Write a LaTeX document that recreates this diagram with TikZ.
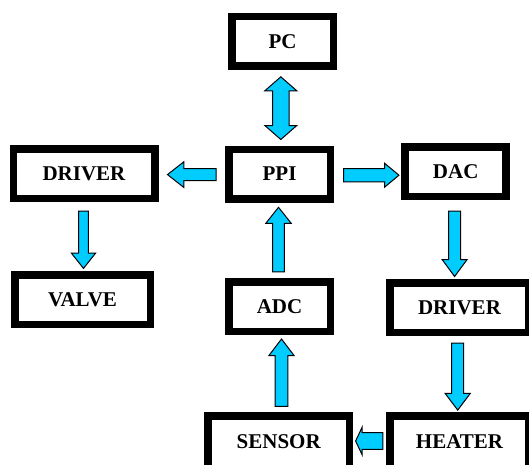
\documentclass[tikz,border=0pt]{standalone}
\usepackage{fontspec}
\setmainfont{Liberation Serif}
\usetikzlibrary{calc}

\definecolor{flowcyan}{RGB}{0,204,255}

\tikzset{
  block/.style={draw=black, line width=7.5pt, fill=white, inner sep=0pt,
    minimum width=#1, minimum height=49.5pt,
    font=\fontsize{21}{24}\selectfont\bfseries},
  % blocks running past the lower edge of the page
  lowblock/.style={block=#1, minimum height=0pt, text height=32pt, text depth=40pt, anchor=base},
  blockarrowstyle/.style={fill=flowcyan, draw=black, line width=1pt, line join=miter},
}

% single block arrow: from, to, shaft half width, head half width, head length
\newcommand\blockarrow[5]{%
  \path (#1) coordinate (ba-s) (#2) coordinate (ba-e);
  \coordinate (ba-h) at ($(ba-e)!#5pt!(ba-s)$);
  \filldraw[blockarrowstyle]
    ($(ba-s)!#3pt!90:(ba-e)$) -- ($(ba-h)!#3pt!-90:(ba-s)$) --
    ($(ba-h)!#4pt!-90:(ba-s)$) -- (ba-e) -- ($(ba-h)!#4pt!90:(ba-s)$) --
    ($(ba-h)!#3pt!90:(ba-s)$) -- ($(ba-s)!#3pt!-90:(ba-e)$) -- cycle;
}

% double-headed block arrow: end a, end b, shaft half width, head half width, head length
\newcommand\dblockarrow[5]{%
  \path (#1) coordinate (da-a) (#2) coordinate (da-b);
  \coordinate (da-ha) at ($(da-a)!#5pt!(da-b)$);
  \coordinate (da-hb) at ($(da-b)!#5pt!(da-a)$);
  \filldraw[blockarrowstyle]
    (da-a) -- ($(da-ha)!#4pt!90:(da-b)$) -- ($(da-ha)!#3pt!90:(da-b)$) --
    ($(da-hb)!#3pt!-90:(da-a)$) -- ($(da-hb)!#4pt!-90:(da-a)$) -- (da-b) --
    ($(da-hb)!#4pt!90:(da-a)$) -- ($(da-hb)!#3pt!90:(da-a)$) --
    ($(da-ha)!#3pt!-90:(da-b)$) -- ($(da-ha)!#4pt!-90:(da-b)$) -- cycle;
}

\begin{document}
\begin{tikzpicture}[x=1pt, y=-1pt]
  \fill[white] (0,0) rectangle (529,464);
  \clip (0,0) rectangle (529,464);
  \useasboundingbox (0,0) rectangle (529,464);

  % blocks
  \node[block=101.5pt] (pc)     at (282.5,41.3) {PC};
  \node[block=101.5pt] (ppi)    at (279.5,174)  {PPI};
  \node[block=141.5pt] (drvl)   at (84,173.5)   {DRIVER};
  \node[block=101pt]   (dac)    at (455.7,171.5){DAC};
  \node[block=135.5pt] (valve)  at (82.5,299.5) {VALVE};
  \node[block=101.5pt] (adc)    at (279.5,306.8){ADC};
  \node[block=139pt]   (drvr)   at (459.5,307.5){DRIVER};
  \node[lowblock=141.5pt] (sensor) at (278.7,448) {SENSOR};
  \node[lowblock=139pt]   (heater) at (459.5,448) {HEATER};

  % connectors
  \dblockarrow{$(ppi.north)+(1.3,-6)$}{$(ppi.north |- pc.south)+(1.3,7)$}{8.2}{16}{14}
  \blockarrow{$(ppi.west)+(-9,0.6)$}{$(ppi.west -| drvl.east)+(9,0.6)$}{5.9}{12.8}{16.3}
  \blockarrow{$(ppi.east)+(9.5,1.2)$}{$(ppi.east -| dac.west)+(-2.5,1.2)$}{6.6}{12}{14.4}
  \blockarrow{$(drvl.south)+(-0.5,9)$}{$(drvl.south |- valve.north)+(-0.5,-2.6)$}{4.9}{12.2}{15.4}
  \blockarrow{$(adc.north)+(-1,-6.5)$}{$(adc.north |- ppi.south)+(-1,4.8)$}{5.9}{12.7}{16}
  \blockarrow{$(dac.south)+(-1.1,11)$}{$(dac.south |- drvr.north)+(-1.1,-2.5)$}{5.9}{12.5}{17}
  \blockarrow{$(drvr.south)+(-1.8,7)$}{$(drvr.south |- heater.north)+(-1.8,-2.2)$}{6}{12.7}{16.8}
  \blockarrow{$(adc.south |- sensor.north)+(2,-6)$}{$(adc.south)+(2,3.7)$}{6.4}{12.7}{16.7}
  \blockarrow{$(heater.base west)+(-3.3,-7)$}{$(heater.base west -| sensor.base east)+(2.4,-7)$}{8.3}{14}{6.6}
\end{tikzpicture}
\end{document}
